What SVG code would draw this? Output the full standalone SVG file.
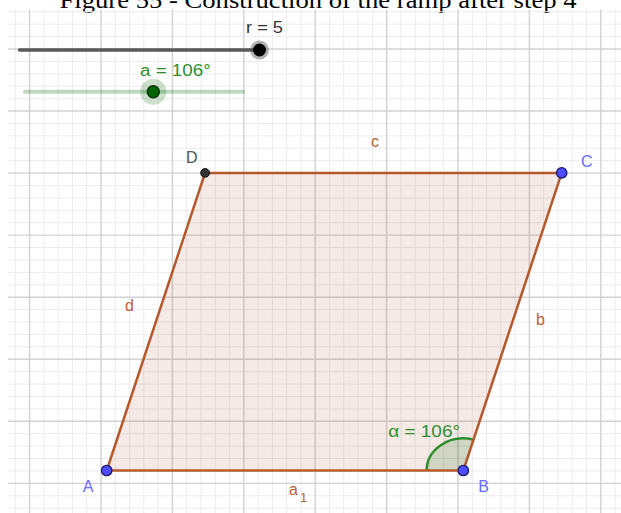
<svg xmlns="http://www.w3.org/2000/svg" width="621" height="513" viewBox="0 0 621 513">
<style>
.minor{stroke:#ececec;stroke-width:1;fill:none}
.major{stroke:#d2d2d2;stroke-width:1.4;fill:none}
.seg{stroke:#b5592c;stroke-width:2.5;fill:none;stroke-linecap:round}
.lbl{font-family:"Liberation Sans",Arial,sans-serif;font-size:16px}
.seglbl{fill:#bb6032}
.ptlbl{fill:#6a6aff}
.free{fill:#4d4dff;stroke:#1a1a66;stroke-width:1.3}
.grn{fill:#2f8f2f}
</style>
<rect width="621" height="513" fill="#ffffff"/>
<text x="318" y="8" font-family="'Liberation Serif','Times New Roman',serif" font-size="24" text-anchor="middle" textLength="517" lengthAdjust="spacingAndGlyphs" fill="#000">Figure 55 - Construction of the ramp after step 4</text>
<g id="grid">
<path class="minor" d="M15.32 9.5V513M43.88 9.5V513M58.16 9.5V513M72.44 9.5V513M86.72 9.5V513M115.28 9.5V513M129.56 9.5V513M143.84 9.5V513M158.12 9.5V513M186.68 9.5V513M200.96 9.5V513M215.24 9.5V513M229.52 9.5V513M258.08 9.5V513M272.36 9.5V513M286.64 9.5V513M300.92 9.5V513M329.48 9.5V513M343.76 9.5V513M358.04 9.5V513M372.32 9.5V513M400.88 9.5V513M415.16 9.5V513M429.44 9.5V513M443.72 9.5V513M472.28 9.5V513M486.56 9.5V513M500.84 9.5V513M515.12 9.5V513M543.68 9.5V513M557.96 9.5V513M572.24 9.5V513M586.52 9.5V513M615.08 9.5V513"/>
<path class="minor" d="M8 11.77H621M8 24.18H621M8 36.59H621M8 61.41H621M8 73.82H621M8 86.23H621M8 98.64H621M8 123.46H621M8 135.87H621M8 148.28H621M8 160.69H621M8 185.51H621M8 197.92H621M8 210.33H621M8 222.74H621M8 247.56H621M8 259.97H621M8 272.38H621M8 284.79H621M8 309.61H621M8 322.02H621M8 334.43H621M8 346.84H621M8 371.66H621M8 384.07H621M8 396.48H621M8 408.89H621M8 433.71H621M8 446.12H621M8 458.53H621M8 470.94H621M8 495.76H621M8 508.17H621"/>
<path class="major" d="M29.6 9.5V513M101 9.5V513M172.4 9.5V513M243.8 9.5V513M315.2 9.5V513M386.6 9.5V513M458 9.5V513M529.4 9.5V513M600.8 9.5V513"/>
<path class="major" d="M8 49H621M8 111.05H621M8 173.1H621M8 235.15H621M8 297.2H621M8 359.25H621M8 421.3H621M8 483.35H621"/>
</g>
<g id="slider-r">
<line x1="19.5" y1="50" x2="259.5" y2="50" stroke="#4a4a4a" stroke-width="3.5" stroke-linecap="round" opacity="0.9"/>
<circle cx="259.5" cy="50" r="9.5" fill="#555" opacity="0.45"/>
<circle cx="259.5" cy="50" r="6.5" fill="#000"/>
<text class="lbl" x="246" y="33.3" fill="#333" textLength="37" lengthAdjust="spacingAndGlyphs">r = 5</text>
</g>
<g id="slider-a">
<line x1="25" y1="91.7" x2="243.3" y2="91.7" stroke="#006400" stroke-opacity="0.25" stroke-width="4" stroke-linecap="round"/>
<circle cx="153.3" cy="91.7" r="13" fill="#006400" opacity="0.2"/>
<circle cx="153.3" cy="91.7" r="6" fill="#006400" stroke="#003300" stroke-width="1.5"/>
<text class="lbl grn" x="140" y="76" textLength="70.7" lengthAdjust="spacingAndGlyphs">a = 106°</text>
</g>
<g id="polygon">
<polygon points="106.7,470.5 463.3,470.5 561.7,172.9 205.1,172.9" fill="#993300" fill-opacity="0.1"/>
</g>
<g id="angle">
<path d="M463.3 470.5L426.7 470.5A36.6 31.8 0 0 1 473.4 439.7Z" fill="#006400" fill-opacity="0.15"/>
<path d="M426.7 470.5A36.6 31.8 0 0 1 473.4 439.7" fill="none" stroke="#2f8f2f" stroke-width="2.5"/>
<text class="lbl grn" x="388.3" y="436.7" textLength="71.7" lengthAdjust="spacingAndGlyphs">α = 106°</text>
</g>
<g id="connectors">
<g id="seg-a1"><line class="seg" x1="106.7" y1="470.5" x2="463.3" y2="470.5"/><text class="lbl seglbl" x="289" y="495">a</text><text class="lbl seglbl" x="300" y="502" style="font-size:13px">1</text></g>
<g id="seg-b"><line class="seg" x1="463.3" y1="470.5" x2="561.7" y2="172.9"/><text class="lbl seglbl" x="536" y="325">b</text></g>
<g id="seg-c"><line class="seg" x1="561.7" y1="172.9" x2="205.1" y2="172.9"/><text class="lbl seglbl" x="371" y="146.7">c</text></g>
<g id="seg-d"><line class="seg" x1="205.1" y1="172.9" x2="106.7" y2="470.5"/><text class="lbl seglbl" x="125" y="311">d</text></g>
</g>
<g id="A"><circle class="free" cx="106.7" cy="470.5" r="5.2"/><text class="lbl ptlbl" x="82.7" y="491.7">A</text></g>
<g id="B"><circle class="free" cx="463.3" cy="470.5" r="5.2"/><text class="lbl ptlbl" x="478.3" y="491.7">B</text></g>
<g id="C"><circle class="free" cx="561.7" cy="172.9" r="5.2"/><text class="lbl ptlbl" x="581" y="167.3">C</text></g>
<g id="D"><circle cx="205.1" cy="172.9" r="4.4" fill="#333" stroke="#111" stroke-width="1"/><text class="lbl" x="186" y="163.3" fill="#555">D</text></g>
</svg>
